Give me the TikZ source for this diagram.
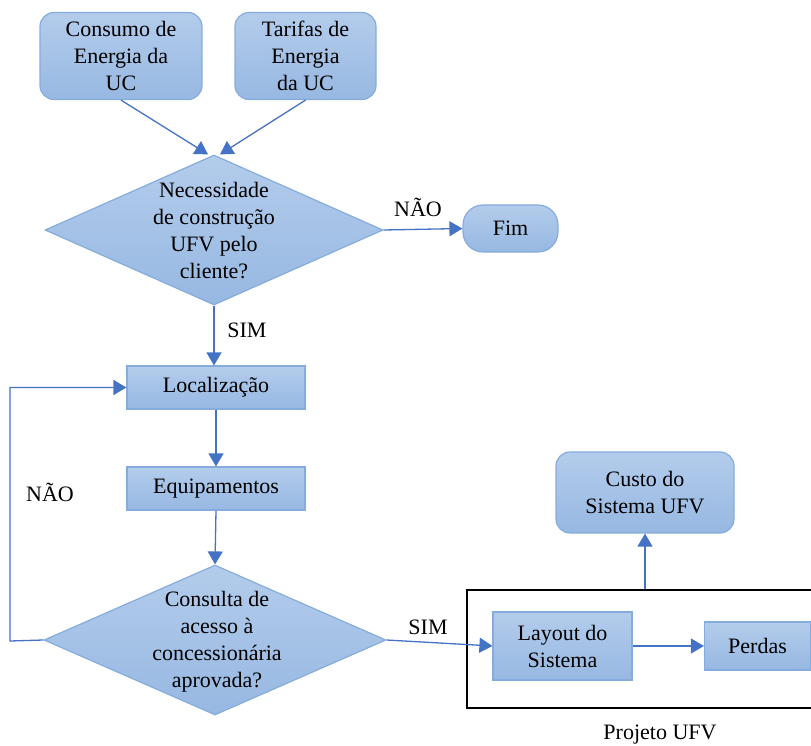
\documentclass[tikz,border=0pt]{standalone}
\usepackage{fontspec}
\setmainfont{Liberation Serif}
\usetikzlibrary{shapes.geometric,arrows.meta}
\definecolor{boxtop}{HTML}{B3CCEB}
\definecolor{boxbot}{HTML}{97B8E2}
\definecolor{boxline}{HTML}{86ACDD}
\definecolor{arr}{HTML}{4472C4}
\tikzset{
  base/.style={draw=boxline, line width=1.2pt, top color=boxtop, bottom color=boxbot, align=center, inner sep=0pt,
    font=\fontsize{22}{27}\selectfont},
  rbox/.style={base, rectangle, rounded corners=14pt},
  sbox/.style={base, rectangle},
  dia/.style={base, diamond},
  txt/.style={align=center, inner sep=0pt, font=\fontsize{22}{27}\selectfont},
  conn/.style={draw=arr, line width=1.3pt, -{Triangle[width=15pt,length=13pt]}},
  loopline/.style={draw=arr, line width=1.3pt},
}
\begin{document}
\begin{tikzpicture}[x=1pt,y=-1pt]
\useasboundingbox (0,0) rectangle (811,746);
% frame
\node[draw=black, line width=2pt, minimum width=346pt, minimum height=118pt, inner sep=0pt] (frame) at (640,649) {};
% nodes
\node[rbox, minimum width=162pt, minimum height=87pt] (cons) at (121,56) {Consumo de\\Energia da\\UC};
\node[rbox, minimum width=141pt, minimum height=87pt] (tar) at (305.5,56) {Tarifas de\\Energia\\da UC};
\node[dia, minimum width=338pt, minimum height=150pt] (d1) at (214,230) {};
\node[txt] (d1t) at (214,231) {Necessidade\\de construção\\UFV pelo\\cliente?};
\node[rbox, rounded corners=20pt, minimum width=95pt, minimum height=47pt] (fim) at (510.5,228.5) {Fim};
\node[sbox, minimum width=178pt, minimum height=43pt] (loc) at (216,387.5) {Localização};
\node[sbox, minimum width=178pt, minimum height=43pt] (equ) at (216,488.5) {Equipamentos};
\node[dia, minimum width=342pt, minimum height=150pt] (d2) at (215,640) {};
\node[txt] (d2t) at (217,642) {Consulta de\\acesso à\\concessionária\\aprovada?};
\node[sbox, minimum width=139pt, minimum height=68pt] (lay) at (562.5,646) {Layout do\\Sistema};
\node[sbox, minimum width=106pt, minimum height=48pt] (per) at (757.5,646) {Perdas};
\node[rbox, minimum width=178pt, minimum height=81pt] (custo) at (645,492.5) {Custo do\\Sistema UFV};
% labels
\node[txt] (lnao1) at (418,207) {NÃO};
\node[txt] (lsim1) at (247,330) {SIM};
\node[txt] (lnao2) at (50,492) {NÃO};
\node[txt] (lsim2) at (428,627) {SIM};
\node[txt] (lproj) at (660,735) {Projeto UFV};
% connectors
\coordinate (d1l) at ([xshift=-6pt]d1.north);
\coordinate (d1r) at ([xshift=6pt]d1.north);
\draw[conn] (cons.south) -- (d1l);
\draw[conn] (tar.south) -- (d1r);
\draw[conn] (d1.east) -- (fim.west);
\draw[conn] (d1.south) -- (d1.south |- loc.north);
\draw[conn] (loc.south) -- (equ.north);
\draw[conn] (equ.south) -- (d2.north);
\coordinate (lp) at (10,641);
\draw[conn] (d2.west) -- (lp) |- (loc.west);
\draw[conn] (d2.east) -- (lay.west);
\draw[conn] (lay.east) -- (per.west);
\draw[conn] (custo.south |- frame.north) -- (custo.south);
\end{tikzpicture}
\end{document}
